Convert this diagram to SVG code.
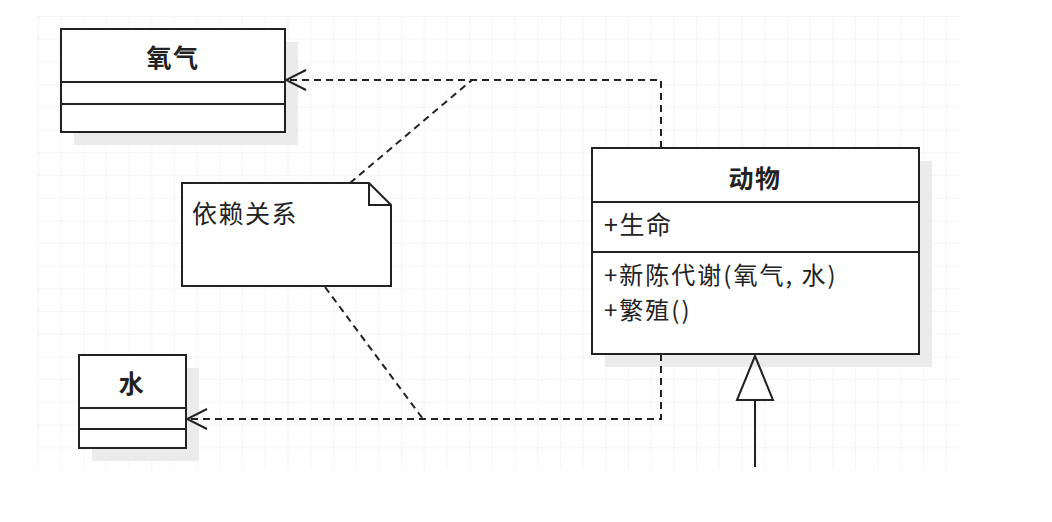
<svg xmlns="http://www.w3.org/2000/svg" width="1052" height="522" viewBox="0 0 1052 522">
<defs>
<pattern id="grid" x="37.8" y="16" width="22.7" height="22.7" patternUnits="userSpaceOnUse">
<path d="M0 0 H22.7 M0 0 V22.7" fill="none" stroke="#ececec" stroke-width="1"/>
</pattern>
<marker id="open" viewBox="0 0 22 22" refX="21" refY="11" markerWidth="22" markerHeight="22" markerUnits="userSpaceOnUse" orient="auto">
<path d="M1 1 L21 11 L1 21" fill="none" stroke="#222" stroke-width="2"/>
</marker>
</defs>
<style>
.box{fill:#fff;stroke:#222;stroke-width:2}
.sh{fill:#ebebeb}
.ln{stroke:#222;stroke-width:2;fill:none}
.dash{stroke:#222;stroke-width:2;fill:none;stroke-dasharray:7 5}
.t{font-family:"Noto Sans CJK SC","Liberation Sans",sans-serif;font-size:25px;fill:#222;letter-spacing:1.5px}
.m{font-size:24px;letter-spacing:2px}
.b{font-weight:bold}
</style>
<rect width="1052" height="522" fill="#fff"/>
<rect x="37" y="16" width="923" height="454" fill="url(#grid)"/>

<g id="oxygen">
<rect class="sh" x="74" y="42" width="224" height="103"/>
<rect class="box" x="61" y="29" width="224" height="103"/>
<line class="ln" x1="61" y1="82" x2="285" y2="82"/>
<line class="ln" x1="61" y1="104" x2="285" y2="104"/>
<text class="t b" x="173" y="67" text-anchor="middle">氧气</text>
</g>

<g id="water">
<rect class="sh" x="92" y="368" width="107" height="93"/>
<rect class="box" x="79" y="355" width="107" height="93"/>
<line class="ln" x1="79" y1="408" x2="186" y2="408"/>
<line class="ln" x1="79" y1="429" x2="186" y2="429"/>
<text class="t b" x="132" y="393" text-anchor="middle">水</text>
</g>

<g id="note">
<path class="box" d="M182 183 H369 L391 205 V286 H182 Z"/>
<path class="ln" d="M369 183 V205 H391"/>
<text class="t" x="192" y="223">依赖关系</text>
</g>

<g id="animal">
<rect class="sh" x="605" y="161" width="327" height="206"/>
<rect class="box" x="592" y="148" width="327" height="206"/>
<line class="ln" x1="592" y1="202" x2="919" y2="202"/>
<line class="ln" x1="592" y1="252" x2="919" y2="252" stroke-width="3"/>
<text class="t b" x="755" y="188" text-anchor="middle">动物</text>
<text class="t" x="604" y="234">+生命</text>
<text class="t m" x="604" y="284">+新陈代谢(氧气, 水)</text>
<text class="t m" x="604" y="319">+繁殖()</text>
</g>

<g id="connectors">
<path class="dash" d="M661 148 V80 H286" marker-end="url(#open)"/>
<path class="dash" d="M661 354 V419 H187" marker-end="url(#open)"/>
<path class="dash" d="M350 183 L472 80"/>
<path class="dash" d="M325 287 L423 419"/>
<line class="ln" x1="755" y1="467" x2="755" y2="400"/>
<path class="ln" d="M755 356 L773 400 H737 Z" fill="#fff"/>
</g>
</svg>
